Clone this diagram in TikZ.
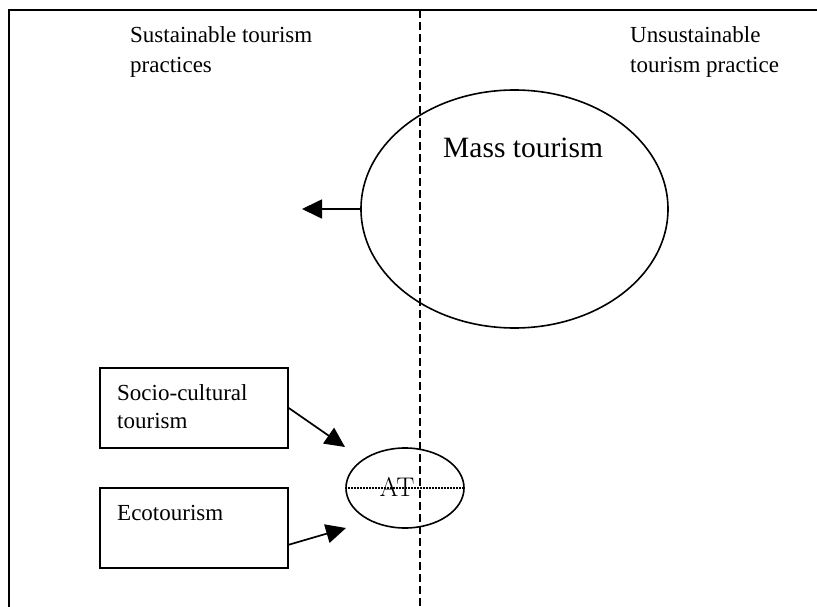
\documentclass[tikz,border=0pt]{standalone}
\usepackage{fontspec}
\setmainfont{Liberation Serif}
\newfontfamily\lmfont{Latin Modern Roman}
\usetikzlibrary{arrows.meta,shapes.geometric}

\begin{document}
\begin{tikzpicture}[x=1pt,y=-1pt,
  frame/.style={line width=2.2pt},
  divider/.style={line width=1.5pt, dash pattern=on 8pt off 4pt},
  outline/.style={draw, line width=1.6pt},
  box/.style={outline, rectangle, minimum width=188pt, minimum height=80pt, inner sep=0pt},
  oval/.style={outline, ellipse, inner sep=0pt},
  heading/.style={font=\fontsize{23}{30}\selectfont, inner sep=0pt, align=left, anchor=north west},
  boxtext/.style={font=\fontsize{23}{28}\selectfont, inner sep=0pt, align=left},
  arr/.style={line width=1.7pt, -{Triangle[length=20pt,width=19pt]}}]

\useasboundingbox (0,0) rectangle (817,607);
\fill[white] (0,0) rectangle (817,607);

% outer frame (left and top edges)
\coordinate (fbl) at (9,607);
\coordinate (ftl) at (9,10);
\coordinate (ftr) at (817,10);
\draw[frame] (fbl) -- (ftl) -- (ftr);

% dashed divider between the two halves
\coordinate (dtop) at (420,10);
\coordinate (dbot) at (420,607);
\draw[divider] (dtop) -- (dbot);

% column headings
\node[heading] (hleft) at (130,26) {Sustainable tourism\\practices};
\node[heading] (hright) at (630,26) {Unsustainable\\tourism practice};

% mass tourism
\node[oval, minimum width=307pt, minimum height=238pt] (mass) at (514.5,209) {};
\node[font=\fontsize{29.5}{34}\selectfont, inner sep=0pt, anchor=base west] (masslabel) at (443,158) {Mass tourism};
\coordinate (pa) at (302,209);
\draw[arr] (mass.west) -- (pa);

% left-hand boxes
\node[box] (soc) at (194,408) {};
\node[boxtext, anchor=north west] (socl) at (117,384.8) {Socio-cultural\\tourism};
\node[box] (eco) at (194,528) {};
\node[boxtext, anchor=base west] (ecol) at (117,520) {Ecotourism};

% alternative tourism
\node[oval, minimum width=118pt, minimum height=80pt] (at) at (405,488) {};
\draw[line width=1.3pt, dash pattern=on 1.3pt off 1.7pt] (at.west) -- (at.east);
\node[font=\lmfont\fontsize{27}{30}\selectfont, inner sep=0pt, anchor=base] (atl) at (397,496) {AT};

\coordinate (p1) at (345,447);
\coordinate (p2) at (346,528);
\draw[arr] (soc.east) -- (p1);
\draw[arr] (eco.-10.25) -- (p2);
\end{tikzpicture}
\end{document}
